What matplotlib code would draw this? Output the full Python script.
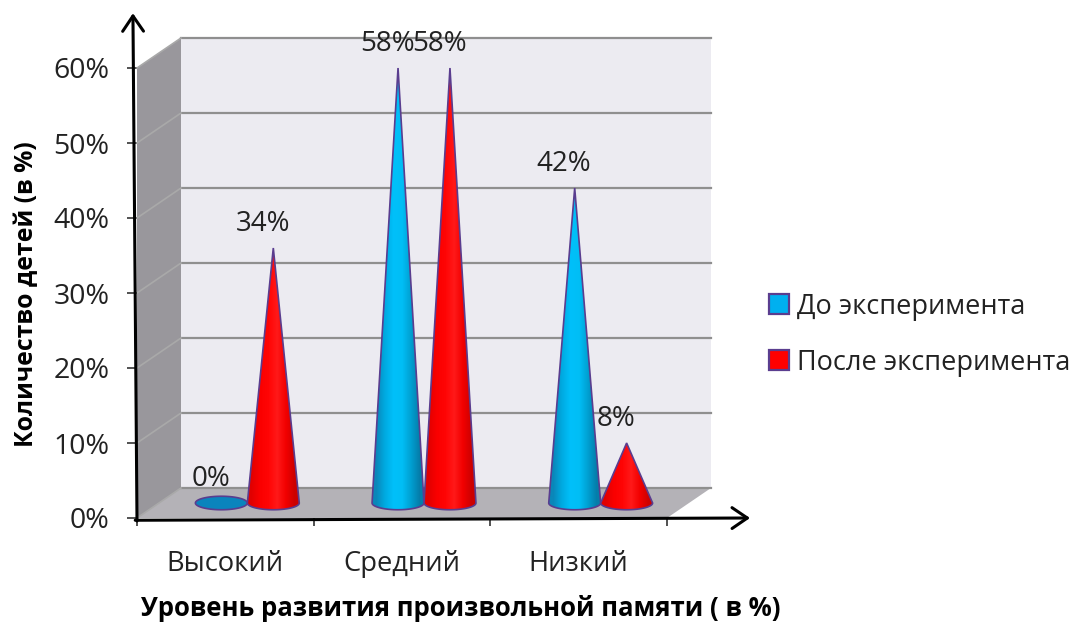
import matplotlib
matplotlib.use("Agg")
import matplotlib.pyplot as plt
import numpy as np
from matplotlib.patches import Polygon, Patch

plt.rcParams["font.family"] = ["Open Sans", "DejaVu Sans"]

categories = ["Высокий", "Средний", "Низкий"]
before = [0, 58, 42]
after = [34, 58, 8]
yticks = [0, 10, 20, 30, 40, 50, 60]
series_names = ["До эксперимента", "После эксперимента"]

W, H = 1075, 622
fig = plt.figure(figsize=(W / 100, H / 100), dpi=100)
# front plane of the 3d box, in pixels
left, right, top, bottom = 137, 667, 68, 518
ax = fig.add_axes([left / W, 1 - bottom / H, (right - left) / W, (bottom - top) / H])
ax.set_xlim(0, 3)
ax.set_ylim(0, 60)
ax.patch.set_visible(False)

# depth of the box in data units (44px, 30px)
dx = 44 / 530 * 3
dy = 30 / 450 * 60

# walls and floor
ax.add_patch(Polygon([(dx, dy), (3 + dx, dy), (3 + dx, 60 + dy), (dx, 60 + dy)],
                     fc="#ecebf1", ec="none", clip_on=False, zorder=1))
ax.add_patch(Polygon([(0, 0), (dx, dy), (dx, 60 + dy), (0, 60)],
                     fc="#99979c", ec="none", clip_on=False, zorder=1))
ax.add_patch(Polygon([(0, 0), (3, 0), (3 + dx, dy), (dx, dy)],
                     fc="#b4b2b7", ec="none", clip_on=False, zorder=1))
for t in yticks:
    ax.plot([dx, 3 + dx], [t + dy, t + dy], color="#8f8f8f", lw=1.6, clip_on=False, zorder=2)
    ax.plot([0, dx], [t, t + dy], color="#a9a9a9", lw=1.2, clip_on=False, zorder=2)


def cone(xc, value, stops, z):
    # cone stands in the middle of the box depth
    x0 = xc + dx / 2
    y0 = dy / 2
    half_w = 0.147
    half_h = 0.9
    a = np.linspace(np.pi, 2 * np.pi, 60)
    base = np.column_stack([x0 + half_w * np.cos(a), y0 + half_h * np.sin(a)])
    if value > 0:
        pts = np.vstack([[x0, y0 + value], base])
    else:
        a = np.linspace(0, 2 * np.pi, 80)
        pts = np.column_stack([x0 + half_w * np.cos(a), y0 + half_h * np.sin(a)])
    poly = Polygon(pts, closed=True, fc="none", ec="#5a3d8f", lw=1.2, clip_on=False, zorder=z + 0.1)
    ax.add_patch(poly)
    if value > 0:
        grad = np.array(stops)[None, :, :] / 255
        im = ax.imshow(grad, extent=[x0 - half_w, x0 + half_w, y0 - half_h, y0 + value],
                       aspect="auto", interpolation="bilinear", zorder=z)
        im.set_clip_path(poly)
    else:
        ax.add_patch(Polygon(pts, closed=True, fc="#0a84bd", ec="none", zorder=z))


blue = [(10, 135, 185), (0, 170, 225), (0, 192, 250), (0, 190, 245), (0, 160, 210), (5, 125, 170)]
red = [(225, 0, 0), (250, 0, 0), (255, 5, 5), (255, 25, 25), (242, 0, 0), (205, 0, 0)]
for i in range(len(categories)):
    c = i + 0.5
    cone(c - 0.147, before[i], blue, 3 + i * 2)
    cone(c + 0.147, after[i], red, 4 + i * 2)
    for off, v in [(-0.147, before[i]), (0.147, after[i])]:
        ax.text(c + off + dx / 2 - 0.06, v + dy / 2 + 3.2, f"{v}%", ha="center", va="center",
                fontsize=20, color="#222222", clip_on=False, zorder=20)

# ticks
ax.set_yticks(yticks)
ax.set_yticklabels([f"{t}%" for t in yticks], fontsize=20.5, color="#222222")
ax.set_xticks([0, 1, 2, 3])
ax.set_xticklabels([])
ax.set_xticks([0.5, 1.5, 2.5], minor=True)
ax.set_xticklabels(categories, minor=True, fontsize=19.7, color="#222222")
ax.tick_params(axis="x", which="major", length=6, width=1.2, color="#333333")
ax.tick_params(axis="x", which="minor", length=0, pad=23)
ax.tick_params(axis="y", length=7, width=1.2, color="#333333", pad=13)
for s in ax.spines.values():
    s.set_visible(False)

ax.set_xlabel("Уровень развития произвольной памяти ( в %)", fontsize=18.5, fontweight="bold")
ax.xaxis.set_label_coords(0.61, -0.17)
ax.set_ylabel("Количество детей (в %)", fontsize=17.8, fontweight="bold")
ax.yaxis.set_label_coords(-0.185, 0.497)

# hand drawn looking axes with open arrow heads
arrow = dict(arrowstyle="->,head_length=1.1,head_width=0.75", color="black", lw=2.2,
             shrinkA=0, shrinkB=0)
ax.annotate("", xy=(-0.023, 67.3), xytext=(0, -0.4), arrowprops=arrow, annotation_clip=False, zorder=30)
ax.annotate("", xy=(3.47, 0), xytext=(-0.01, -0.3), arrowprops=arrow, annotation_clip=False, zorder=30)

# legend
handles = [Patch(fc="#00b0f0", ec="#5a3d8f", lw=1.6), Patch(fc="#ff0000", ec="#5a3d8f", lw=1.6)]
fig.legend(handles, series_names, loc="upper left", bbox_to_anchor=(758 / W, 1 - 282 / H),
           frameon=False, fontsize=19.5, handlelength=0.75, handleheight=0.75, handletextpad=0.3,
           labelspacing=1.03, labelcolor="#222222", borderpad=0.4, borderaxespad=0)

fig.savefig("out.png", dpi=100)
